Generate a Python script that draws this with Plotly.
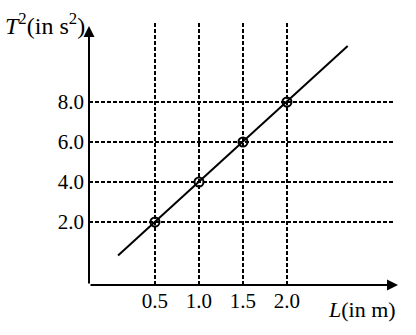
import plotly.graph_objects as go

# data
L_vals = [0.5, 1.0, 1.5, 2.0]
T2_vals = [2.0, 4.0, 6.0, 8.0]
fit_L = [0.08, 2.69]
fit_T2 = [0.32, 10.8]
x_ticks = [0.5, 1.0, 1.5, 2.0]
x_ticktext = ["0.5", "1.0", "1.5", "2.0"]
y_ticks = [2.0, 4.0, 6.0, 8.0]
y_ticktext = ["2.0", "4.0", "6.0", "8.0"]

FONT = "Liberation Serif, Times New Roman, serif"

fig = go.Figure()
fig.add_trace(go.Scatter(x=fit_L, y=fit_T2, mode="lines",
                         line=dict(color="black", width=2), showlegend=False,
                         hoverinfo="skip"))
fig.add_trace(go.Scatter(x=L_vals, y=T2_vals, mode="markers",
                         marker=dict(symbol="circle-open", size=9, color="black",
                                     line=dict(width=2, color="black")),
                         showlegend=False))

W, H = 416, 335
ml, mr, mt, mb = 89, 23, 23, 50
fig.update_layout(
    width=W, height=H,
    margin=dict(l=ml, r=mr, t=mt, b=mb, pad=0),
    paper_bgcolor="white", plot_bgcolor="white",
    font=dict(family=FONT, size=21, color="black"),
    xaxis=dict(range=[-0.25, 3.205], tickvals=x_ticks, ticktext=x_ticktext,
               showgrid=True, gridcolor="black", gridwidth=1.6, griddash="4px,2px",
               zeroline=False, showline=False, ticks="", ticklabelstandoff=1,
               tickfont=dict(family=FONT, size=21, color="black")),
    yaxis=dict(range=[-1.15, 11.95], tickvals=y_ticks, ticktext=y_ticktext,
               showgrid=True, gridcolor="black", gridwidth=1.6, griddash="4px,2px",
               zeroline=False, showline=False, ticks="", ticklabelstandoff=4,
               tickfont=dict(family=FONT, size=21, color="black")),
)

pw = W - ml - mr
ph = H - mt - mb
# axes with arrowheads
fig.add_annotation(xref="paper", yref="paper", x=0, y=(285 - 26) / ph,
                   ax=0, ay=(285 - 26), axref="pixel", ayref="pixel",
                   showarrow=True, arrowhead=2, arrowsize=1.1, arrowwidth=2,
                   arrowcolor="black", text="")
fig.add_annotation(xref="paper", yref="paper", x=(398 - ml) / pw, y=0,
                   ax=-(398 - ml), ay=0, axref="pixel", ayref="pixel",
                   showarrow=True, arrowhead=2, arrowsize=1.1, arrowwidth=2,
                   arrowcolor="black", text="")
# axis titles
fig.add_annotation(xref="paper", yref="paper", x=(3 - ml) / pw, y=(285 - 24) / ph,
                   xanchor="left", yanchor="middle", showarrow=False,
                   text="<i>T</i><sup>2</sup>(in s<sup>2</sup>)",
                   font=dict(family=FONT, size=24, color="black"))
fig.add_annotation(xref="paper", yref="paper", x=(326 - ml) / pw, y=(285 - 309) / ph,
                   xanchor="left", yanchor="middle", showarrow=False,
                   text="<i>L</i>(in m)",
                   font=dict(family=FONT, size=22, color="black"))

fig.write_html("out.html")
